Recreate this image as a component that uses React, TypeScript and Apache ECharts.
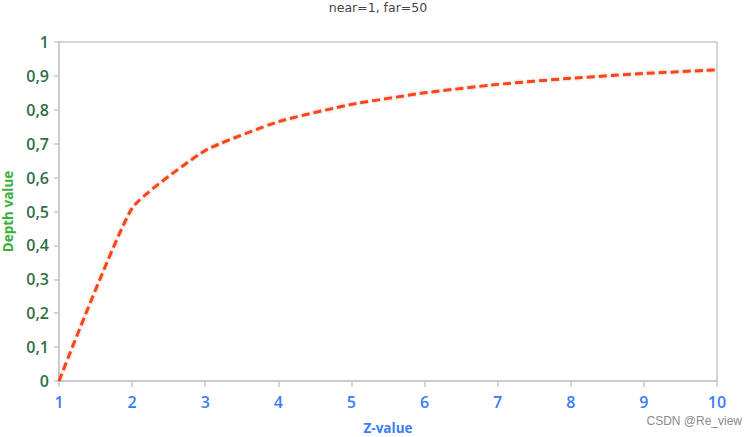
import React, { useEffect, useRef } from "react";
import * as echarts from "echarts";

const zValues = [1, 2, 3, 4, 5, 6, 7, 8, 9, 10];
const depthValues = [0, 0.51, 0.68, 0.765, 0.816, 0.85, 0.875, 0.893, 0.907, 0.918];
const titleText = "near=1, far=50";
const xName = "Z-value";
const yName = "Depth value";
const watermark = "CSDN @Re_view";

export default function App() {
  const ref = useRef<HTMLDivElement>(null);
  useEffect(() => {
    if (!ref.current) return;
    const chart = echarts.init(ref.current, null, { renderer: "svg" });
    chart.setOption({
      animation: false,
      backgroundColor: "#ffffff",
      title: {
        text: titleText,
        left: "center",
        top: 1,
        padding: 0,
        textStyle: { fontSize: 12.5, fontWeight: "normal", color: "#444", fontFamily: "DejaVu Sans" },
      },
      graphic: [
        {
          type: "text",
          right: 14,
          top: 415,
          style: { text: watermark, fontSize: 12, fill: "#8a8a8a", fontFamily: "Liberation Sans" },
        },
      ],
      grid: {
        left: 59,
        right: 39,
        top: 42,
        bottom: 56,
        outerBoundsMode: "none",
        containLabel: false,
        show: true,
        borderColor: "#c8c8c8",
        borderWidth: 1.5,
      },
      xAxis: {
        type: "value",
        min: 1,
        max: 10,
        interval: 1,
        name: xName,
        nameLocation: "middle",
        nameGap: 40,
        nameTextStyle: { color: "#3a7cf5", fontSize: 13.5, fontWeight: "bold", fontFamily: "Open Sans" },
        axisLine: { show: true, lineStyle: { color: "#c8c8c8", width: 1.5 } },
        axisTick: { show: true, length: 6, lineStyle: { color: "#c8c8c8", width: 1.5 } },
        axisLabel: {
          color: "#3a7cf5",
          fontSize: 16,
          margin: 13,
          fontFamily: "Open Sans",
          fontWeight: 600,
        },
        splitLine: { show: false },
      },
      yAxis: {
        type: "value",
        min: 0,
        max: 1,
        interval: 0.1,
        name: yName,
        nameLocation: "middle",
        nameGap: 42,
        nameTextStyle: { color: "#3cae3c", fontSize: 13.5, fontWeight: "bold", fontFamily: "Open Sans" },
        axisLine: { show: true, lineStyle: { color: "#c8c8c8", width: 1.5 } },
        axisTick: { show: true, length: 5, lineStyle: { color: "#c8c8c8", width: 1.5 } },
        axisLabel: {
          color: "#2f6e45",
          fontSize: 16,
          margin: 10,
          fontFamily: "Open Sans",
          fontWeight: 600,
          formatter: (v: number) => String(Math.round(v * 10) / 10).replace(".", ","),
        },
        splitLine: { show: false },
      },
      series: [
        {
          type: "line",
          data: zValues.map((z, i) => [z, depthValues[i]]),
          symbol: "none",
          smooth: 0.15,
          lineStyle: {
            color: "#ff4414",
            width: 3,
            type: [8, 4],
            shadowColor: "rgba(0,0,0,0.25)",
            shadowBlur: 3,
          },
        },
      ],
    });
    return () => chart.dispose();
  }, []);
  return <div ref={ref} style={{ width: 756, height: 437, position: "absolute", left: 0, top: 0 }} />;
}
